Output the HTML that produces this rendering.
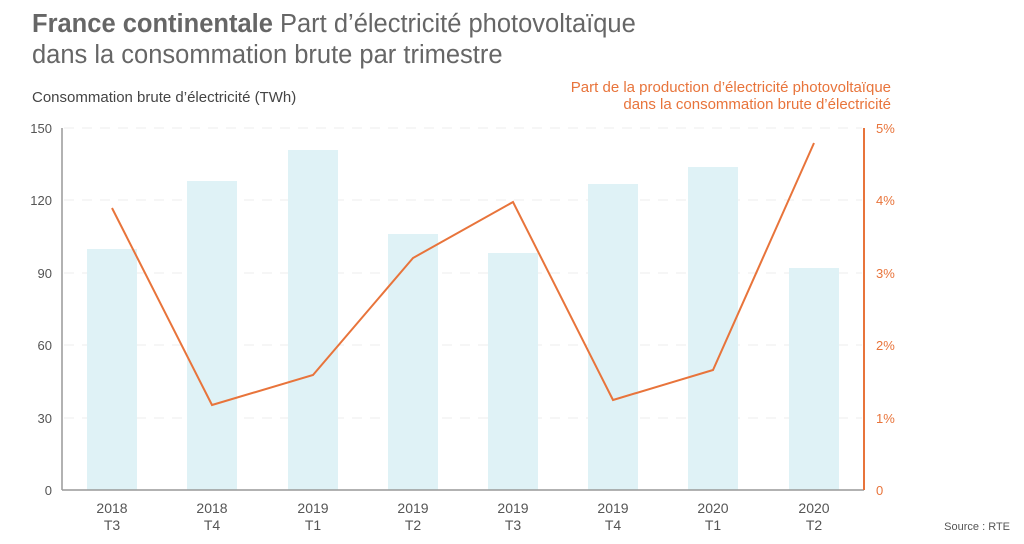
<!DOCTYPE html>
<html><head><meta charset="utf-8"><style>
body{margin:0;background:#fff;width:1024px;height:539px;overflow:hidden;font-family:"Liberation Sans",sans-serif}
</style></head><body>
<svg width="1024" height="539" xmlns="http://www.w3.org/2000/svg" font-family="Liberation Sans, sans-serif">
<text x="32" y="32" font-size="25.5" fill="#666"><tspan font-weight="bold">France continentale</tspan> Part d’électricité photovoltaïque</text>
<text x="32" y="63" font-size="25.5" fill="#666">dans la consommation brute par trimestre</text>
<text x="32" y="102" font-size="15" fill="#444">Consommation brute d’électricité (TWh)</text>
<text x="891" y="92" font-size="15" fill="#e8743b" text-anchor="end">Part de la production d’électricité photovoltaïque</text>
<text x="891" y="109" font-size="15" fill="#e8743b" text-anchor="end">dans la consommation brute d’électricité</text>
<g stroke="#eee" stroke-dasharray="10,8" stroke-width="1">
<line x1="64" x2="862" y1="128" y2="128"/><line x1="64" x2="862" y1="200" y2="200"/><line x1="64" x2="862" y1="273" y2="273"/><line x1="64" x2="862" y1="345" y2="345"/><line x1="64" x2="862" y1="418" y2="418"/>
</g>
<g fill="#dff2f6">
<rect x="87" y="249" width="50" height="241"/><rect x="187" y="181" width="50" height="309"/><rect x="288" y="150" width="50" height="340"/><rect x="388" y="234" width="50" height="256"/><rect x="488" y="253" width="50" height="237"/><rect x="588" y="184" width="50" height="306"/><rect x="688" y="167" width="50" height="323"/><rect x="789" y="268" width="50" height="222"/>
</g>
<line x1="62" y1="128" x2="62" y2="490" stroke="#999" stroke-width="1.5"/>
<line x1="62" y1="490" x2="864" y2="490" stroke="#999" stroke-width="1.5"/>
<line x1="864" y1="128" x2="864" y2="490" stroke="#e8743b" stroke-width="2"/>
<polyline fill="none" stroke="#e8743b" stroke-width="2" points="112,208 212,405 313,375 413,258 513,202 613,400 713,370 814,143"/>
<g font-size="13" fill="#555" text-anchor="end">
<text x="52" y="133">150</text><text x="52" y="205">120</text><text x="52" y="278">90</text><text x="52" y="350">60</text><text x="52" y="423">30</text><text x="52" y="495">0</text>
</g>
<g font-size="13" fill="#e8743b">
<text x="876" y="133">5%</text><text x="876" y="205">4%</text><text x="876" y="278">3%</text><text x="876" y="350">2%</text><text x="876" y="423">1%</text><text x="876" y="495">0</text>
</g>
<g font-size="14" fill="#555" text-anchor="middle">
<text x="112" y="513">2018</text><text x="112" y="530">T3</text>
<text x="212" y="513">2018</text><text x="212" y="530">T4</text>
<text x="313" y="513">2019</text><text x="313" y="530">T1</text>
<text x="413" y="513">2019</text><text x="413" y="530">T2</text>
<text x="513" y="513">2019</text><text x="513" y="530">T3</text>
<text x="613" y="513">2019</text><text x="613" y="530">T4</text>
<text x="713" y="513">2020</text><text x="713" y="530">T1</text>
<text x="814" y="513">2020</text><text x="814" y="530">T2</text>
</g>
<text x="1010" y="530" font-size="11" fill="#555" text-anchor="end">Source : RTE</text>
</svg>
</body></html>
